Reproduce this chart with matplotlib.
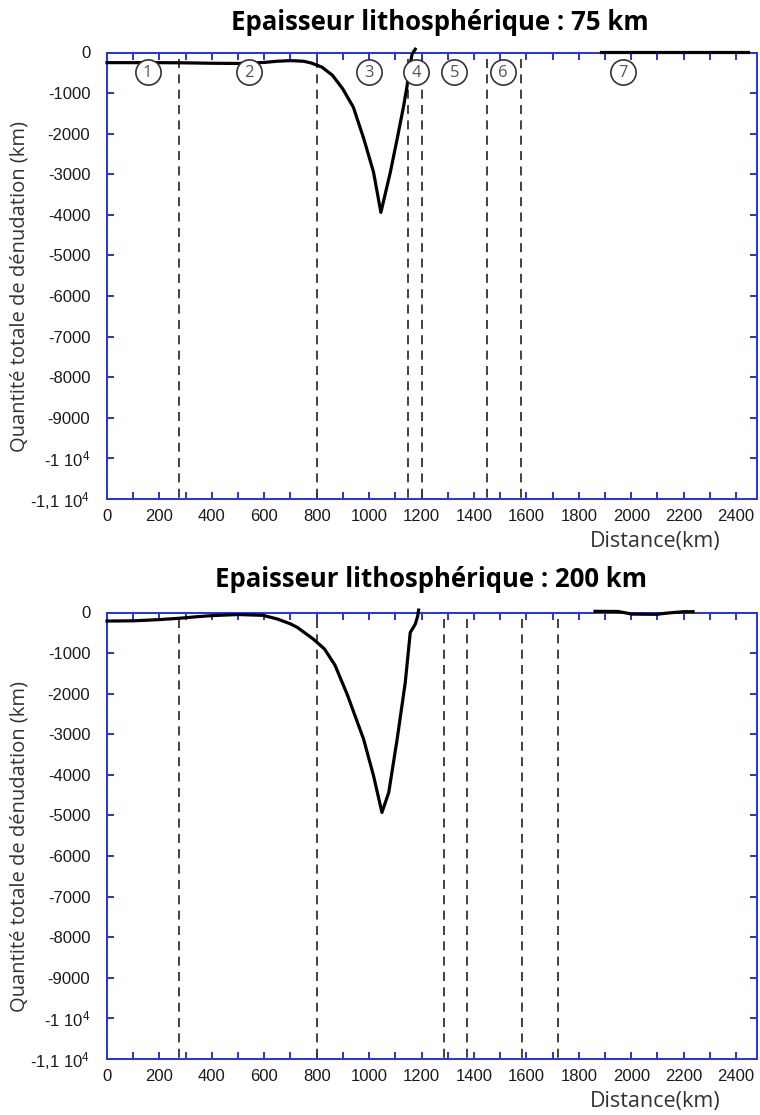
import matplotlib
matplotlib.use("Agg")
import matplotlib.pyplot as plt
from matplotlib.ticker import MultipleLocator, FixedLocator

plt.rcParams['mathtext.default'] = 'regular'

# ---------------- data ----------------
top_x = [0, 100, 200, 300, 400, 500, 600, 650, 700, 750, 780, 820, 860, 900, 940,
         980, 1017, 1045, 1081, 1107, 1132, 1145, 1151, 1164, 1176]
top_y = [-250, -250, -250, -255, -265, -270, -245, -215, -200, -215, -260, -360, -560,
         -900, -1350, -2130, -2950, -3940, -2950, -2130, -1310, -820, -490, -40, 80]
top_seg7_x = [1885, 2100, 2300, 2445]
top_seg7_y = [20, 20, 20, 20]
top_dashes = [275, 800, 1150, 1200, 1450, 1580]

bot_x = [0, 100, 150, 200, 280, 350, 405, 500, 595, 650, 700, 727, 788, 830, 870, 916,
         979, 1017, 1049, 1075, 1107, 1138, 1157, 1176, 1185, 1189]
bot_y = [-210, -205, -190, -175, -140, -100, -75, -50, -70, -160, -280, -370, -660,
         -900, -1300, -2010, -3120, -4025, -4926, -4433, -3120, -1724, -493, -288, -100, 60]
bot_seg7_x = [1862, 1950, 2004, 2098, 2136, 2199, 2236]
bot_seg7_y = [30, 25, -40, -45, -15, 20, 20]
bot_dashes = [275, 800, 1285, 1375, 1585, 1720]

zone_labels = ['1', '2', '3', '4', '5', '6', '7']
zone_x = [155, 540, 1000, 1180, 1325, 1510, 1970]
zone_y = -470

titles = ["Epaisseur lithosphérique : 75 km", "Epaisseur lithosphérique : 200 km"]
ytick_vals = [0, -1000, -2000, -3000, -4000, -5000, -6000, -7000, -8000, -9000, -10000, -11000]
ytick_labels = ['0', '-1000', '-2000', '-3000', '-4000', '-5000', '-6000', '-7000',
                '-8000', '-9000', r'-1 10$^{4}$', r'-1,1 10$^{4}$']
xtick_vals = list(range(0, 2401, 200))
ylabel = "Quantité totale de dénudation (km)"
xlabel = "Distance(km)"

# ---------------- style ----------------
W, H = 760, 1115
BLUE = '#2236d8'
fig = plt.figure(figsize=(W / 100, H / 100), dpi=100)

tick_font = ['Liberation Sans', 'DejaVu Sans']
xtick_font = ['Liberation Sans Narrow', 'Liberation Sans', 'DejaVu Sans']
title_font = ['Open Sans', 'DejaVu Sans']
label_font = ['Open Sans', 'DejaVu Sans']

def px_box(x0, y0, x1, y1):
    return [x0 / W, 1 - y1 / H, (x1 - x0) / W, (y1 - y0) / H]

panels = [
    dict(box=px_box(107, 52.5, 757, 499), x=top_x, y=top_y, sx=top_seg7_x, sy=top_seg7_y,
         dashes=top_dashes, circles=True, title=titles[0], title_y=22, title_x=440,
         ylab_y=287, xlab_y=542),
    dict(box=px_box(107, 612.5, 757, 1059), x=bot_x, y=bot_y, sx=bot_seg7_x, sy=bot_seg7_y,
         dashes=bot_dashes, circles=False, title=titles[1], title_y=580, title_x=431,
         ylab_y=847, xlab_y=1101),
]

for p in panels:
    ax = fig.add_axes(p['box'])
    ax.set_xlim(0, 2480)
    ax.set_ylim(-11000, 0)
    for s in ax.spines.values():
        s.set_color(BLUE)
        s.set_linewidth(1.4)
    ax.xaxis.set_major_locator(FixedLocator(xtick_vals))
    ax.xaxis.set_minor_locator(MultipleLocator(100))
    ax.yaxis.set_major_locator(FixedLocator(ytick_vals))
    ax.set_yticklabels(ytick_labels)
    ax.tick_params(axis='both', which='both', direction='in', color=BLUE, width=1.4,
                   length=5, top=True, right=True, labelcolor='#1a1a1a')
    for lab in ax.get_xticklabels():
        lab.set_family(xtick_font)
        lab.set_fontsize(12)
    for lab in ax.get_yticklabels():
        lab.set_family(tick_font)
        lab.set_fontsize(12)
    ax.tick_params(axis='x', pad=7)
    ax.tick_params(axis='y', pad=12)

    for xv in p['dashes']:
        ax.plot([xv, xv], [-150, -11000], color='#333333', lw=1.3,
                linestyle=(0, (5, 3.5)), zorder=2)

    ax.plot(p['x'], p['y'], color='black', lw=2.3, zorder=4, clip_on=False,
            solid_joinstyle='round')
    ax.plot(p['sx'], p['sy'], color='black', lw=2.3, zorder=4, clip_on=False)

    if p['circles']:
        ax.scatter(zone_x, [zone_y] * len(zone_x), s=330, facecolor='white',
                   edgecolor='#333333', linewidth=1.2, zorder=5)
        for lab, xv in zip(zone_labels, zone_x):
            ax.text(xv, zone_y - 40, lab, ha='center', va='center', fontsize=12,
                    color='#555555', family=label_font, zorder=6)

    fig.text(p['title_x'] / W, 1 - p['title_y'] / H, p['title'], ha='center', va='center',
             fontsize=18.5, fontweight='bold', family=title_font, color='black')
    fig.text(20 / W, 1 - p['ylab_y'] / H, ylabel, rotation=90, ha='center', va='center',
             fontsize=14.5, family=label_font, color='#333333')
    fig.text(655 / W, 1 - p['xlab_y'] / H, xlabel, ha='center', va='center',
             fontsize=15.5, family=label_font, color='#333333')

fig.savefig('out.png', dpi=100)
